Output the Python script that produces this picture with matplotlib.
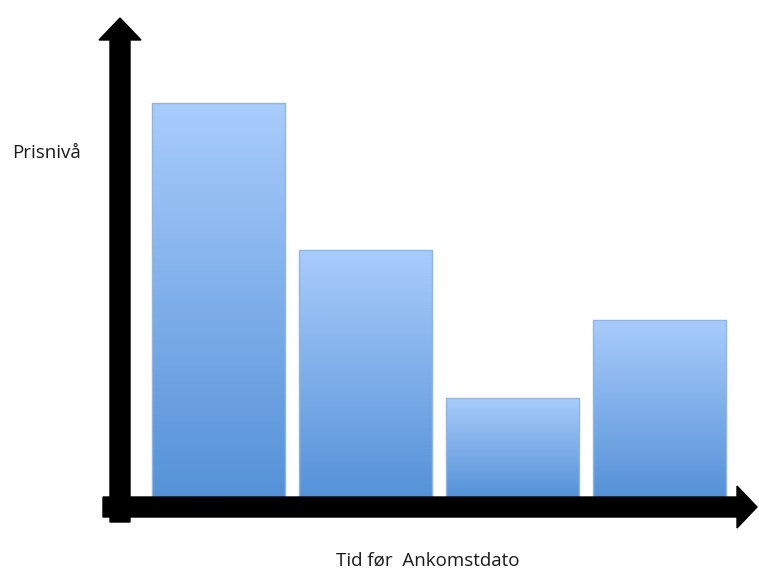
import numpy as np
import matplotlib.pyplot as plt
from matplotlib.patches import FancyArrow
from matplotlib.colors import LinearSegmentedColormap

# periods before arrival date (no tick labels in original), price level
periods = ["P1", "P2", "P3", "P4"]
price_level = [7.88, 4.94, 1.98, 3.54]

fig = plt.figure(figsize=(7.59, 5.72), dpi=100)
ax = fig.add_axes([0, 0, 1, 1])
ax.set_xlim(-1.486, 3.677)
ax.set_ylim(-1.5, 9.94)
ax.axis("off")

x = np.arange(len(periods))
bars = ax.bar(x, price_level, width=0.905, color="none",
              edgecolor="#8fb4e6", linewidth=1.0, zorder=3)

# vertical gradient inside each bar, light at top, darker at bottom
cmap = LinearSegmentedColormap.from_list("grad", ["#5592d8", "#a9ccfc"])
grad = np.linspace(0, 1, 256).reshape(-1, 1)
for b in bars:
    x0, y0 = b.get_x(), b.get_y()
    w, h = b.get_width(), b.get_height()
    im = ax.imshow(grad, cmap=cmap, origin="lower", aspect="auto",
                   extent=(x0, x0 + w, y0, y0 + h), zorder=2,
                   interpolation="bilinear")
    im.set_clip_path(b)

# thick black arrows as axes (pixel units / 100 -> inches)
def arrow(x0, y0, dx, dy, width, hw, hl):
    a = FancyArrow(x0 / 100, y0 / 100, dx / 100, dy / 100,
                   width=width / 100, head_width=hw / 100,
                   head_length=hl / 100, length_includes_head=True,
                   transform=fig.dpi_scale_trans, color="black", zorder=5)
    fig.patches.append(a)

arrow(120, 50, 0, 504, 20, 42, 22)
arrow(103, 65, 654, 0, 20, 42, 20)

fig.text(12 / 759, 1 - 153 / 572, "Prisnivå", fontsize=13.5,
         family="Open Sans", va="center", ha="left", color="#1a1a1a")
fig.text(428 / 759, 1 - 561 / 572, "Tid før  Ankomstdato", fontsize=13.5,
         family="Open Sans", va="center", ha="center", color="#1a1a1a")

fig.savefig("out.png", dpi=100)
